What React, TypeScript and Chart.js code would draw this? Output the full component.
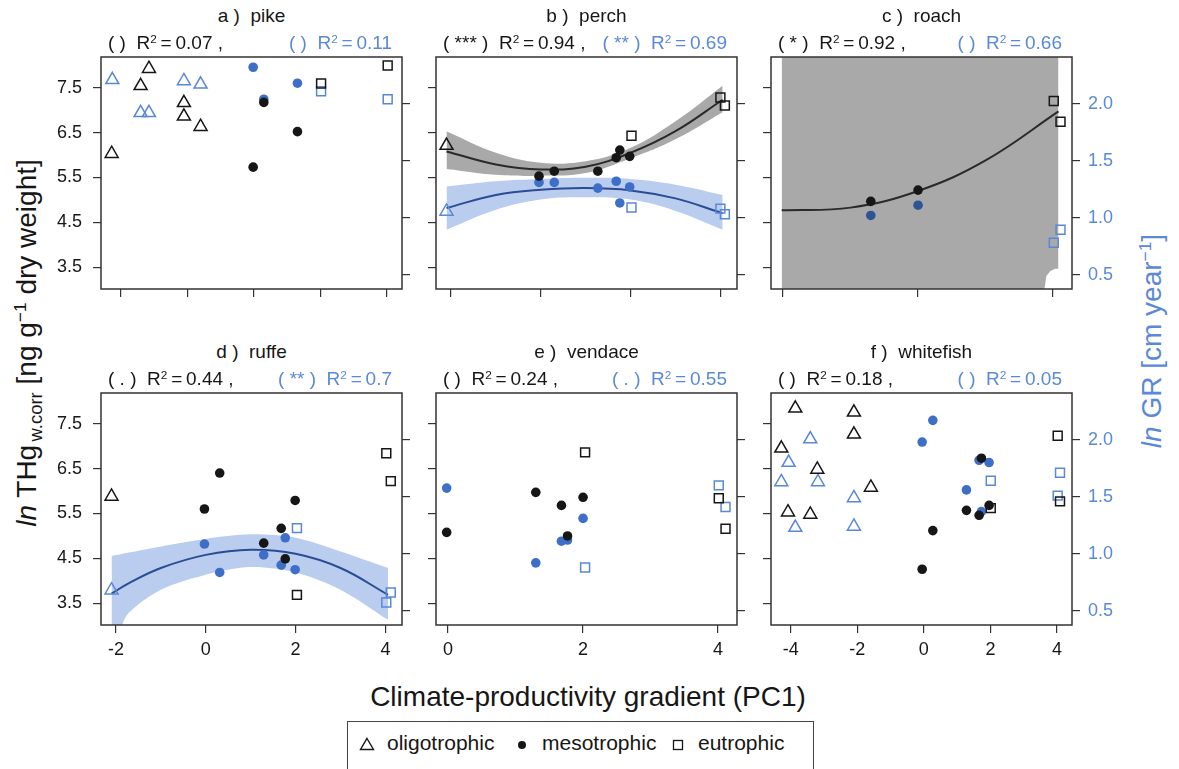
import React, { useEffect, useRef } from 'react';
import { Chart, registerables } from 'chart.js';

Chart.register(...registerables);

// ---------------- axes / ticks ----------------
const THG_TICKS = [3.5, 4.5, 5.5, 6.5, 7.5];
const GR_TICKS = [0.5, 1.0, 1.5, 2.0];
const THG_LIMITS = [3.02, 8.18];
const GR_LIMITS = [0.375, 2.41];
const X_TICKS_WIDE = [-4, -2, 0, 2, 4];
const X_TICKS_MID = [-2, 0, 2, 4];
const X_TICKS_NARROW = [0, 2, 4];
const X_LIMITS_WIDE = [-4.59, 4.45];
const X_LIMITS_MID = [-2.334, 4.37];
const X_LIMITS_NARROW = [-0.178, 4.28];

// ---------------- text ----------------
const PANEL_TITLES = ['a )  pike', 'b )  perch', 'c )  roach', 'd )  ruffe', 'e )  vendace', 'f )  whitefish'];
const THG_SIG = ['( )', '( *** )', '( * )', '( . )', '( )', '( )'];
const THG_R2 = ['0.07', '0.94', '0.92', '0.44', '0.24', '0.18'];
const GR_SIG = ['( )', '( ** )', '( )', '( ** )', '( . )', '( )'];
const GR_R2 = ['0.11', '0.69', '0.66', '0.7', '0.55', '0.05'];
const LEGEND_LABELS = ['oligotrophic', 'mesotrophic', 'eutrophic'];
const X_TITLE = 'Climate-productivity gradient (PC1)';

// ---------------- a) pike ----------------
const PIKE_OLIGO_X = [-4.27, -3.4, -3.15, -2.1, -2.1, -1.6];
const PIKE_THG_OLIGO = [6.03, 7.54, 7.92, 7.16, 6.86, 6.63];
const PIKE_GR_OLIGO_X = [-4.25, -3.4, -3.15, -2.1, -1.6];
const PIKE_GR_OLIGO = [2.21, 1.92, 1.92, 2.2, 2.17];
const PIKE_MESO_X = [-0.02, 0.3, 1.31];
const PIKE_THG_MESO = [5.73, 7.17, 6.52];
const PIKE_GR_MESO = [2.32, 2.04, 2.18];
const PIKE_EU_X = [2.02, 4.02];
const PIKE_THG_EU = [7.59, 7.99];
const PIKE_GR_EU = [2.11, 2.04];

// ---------------- b) perch ----------------
const PERCH_OLIGO_X = [-2.1];
const PERCH_THG_OLIGO = [6.21];
const PERCH_GR_OLIGO = [1.055];
const PERCH_MESO_X = [-0.04, 0.3, 1.27, 1.68, 1.76, 1.98];
const PERCH_THG_MESO = [5.53, 5.64, 5.64, 5.94, 6.11, 5.97];
const PERCH_GR_MESO = [1.31, 1.31, 1.26, 1.32, 1.13, 1.27];
const PERCH_EU_X = [2.02, 4.0, 4.1];
const PERCH_THG_EU = [6.43, 7.28, 7.1];
const PERCH_GR_EU = [1.09, 1.08, 1.03];
const PERCH_FIT_X = [-2.1, -1, 0, 1, 2, 3, 4.05];
const PERCH_THG_FIT = [6.08, 5.79, 5.68, 5.74, 6.05, 6.53, 7.23];
const PERCH_THG_UPPER = [6.53, 6.05, 5.83, 5.86, 6.16, 6.75, 7.54];
const PERCH_THG_LOWER = [5.69, 5.56, 5.54, 5.6, 5.93, 6.35, 6.95];
const PERCH_GR_FIT = [1.085, 1.2, 1.245, 1.26, 1.24, 1.17, 1.04];
const PERCH_GR_UPPER = [1.275, 1.32, 1.34, 1.35, 1.34, 1.29, 1.2];
const PERCH_GR_LOWER = [0.895, 1.07, 1.16, 1.18, 1.16, 1.06, 0.895];

// ---------------- c) roach ----------------
const ROACH_MESO_X = [1.3, 2.0];
const ROACH_THG_MESO = [4.97, 5.22];
const ROACH_GR_MESO = [1.02, 1.11];
const ROACH_EU_X = [4.01, 4.11];
const ROACH_THG_EU = [7.2, 6.74];
const ROACH_GR_EU = [0.78, 0.895];
const ROACH_FIT_X = [-0.02, 1, 2, 3, 4.08];
const ROACH_THG_FIT = [4.77, 4.83, 5.2, 5.88, 6.97];
const ROACH_BAND_X = [-0.02, 3.84, 3.86, 3.9, 3.96, 4.03, 4.08];
const ROACH_THG_UPPER = [20, 20, 20, 20, 20, 20, 20];
const ROACH_THG_LOWER = [-20, -20, 2.9, 3.31, 3.42, 3.47, 3.47];

// ---------------- d) ruffe ----------------
const RUFFE_OLIGO_X = [-2.1];
const RUFFE_THG_OLIGO = [5.88];
const RUFFE_GR_OLIGO = [0.68];
const RUFFE_MESO_X = [-0.03, 0.31, 1.29, 1.68, 1.77, 1.99];
const RUFFE_THG_MESO = [5.6, 6.4, 4.84, 5.17, 4.49, 5.79];
const RUFFE_GR_MESO = [1.085, 0.836, 0.99, 0.9, 1.14, 0.86];
const RUFFE_EU_X = [2.03, 4.02, 4.12];
const RUFFE_THG_EU = [3.69, 6.84, 6.22];
const RUFFE_GR_EU = [1.225, 0.573, 0.66];
const RUFFE_FIT_X = [-2.1, -1.72, -1, 0, 1, 2, 3, 4.06];
const RUFFE_GR_FIT = [0.65, 0.74, 0.875, 0.99, 1.035, 1.0, 0.875, 0.64];
const RUFFE_BAND_X = [-2.1, -1.9, -1.72, -1, 0, 1, 2, 3, 4.06];
const RUFFE_GR_UPPER = [0.98, 0.995, 1.01, 1.064, 1.13, 1.17, 1.14, 1.02, 0.875];
const RUFFE_GR_LOWER = [0.05, 0.33, 0.48, 0.685, 0.816, 0.883, 0.836, 0.685, 0.42];

// ---------------- e) vendace ----------------
const VENDACE_MESO_X = [-0.02, 1.3, 1.68, 1.77, 2.0];
const VENDACE_THG_MESO = [5.08, 5.97, 5.68, 5.0, 5.86];
const VENDACE_GR_MESO = [1.576, 0.92, 1.11, 1.12, 1.31];
const VENDACE_EU_X = [2.03, 4.01, 4.11];
const VENDACE_THG_EU = [6.86, 5.84, 5.16];
const VENDACE_GR_EU = [0.88, 1.6, 1.41];

// ---------------- f) whitefish ----------------
const WHITEFISH_OLIGO_X = [-4.28, -4.08, -3.86, -3.41, -3.2, -2.1, -2.1, -1.59];
const WHITEFISH_THG_OLIGO = [6.95, 5.53, 7.84, 5.48, 6.48, 7.75, 7.26, 6.08];
const WHITEFISH_GR_OLIGO_X = [-4.28, -4.06, -3.86, -3.41, -3.18, -2.1, -2.1];
const WHITEFISH_GR_OLIGO = [1.63, 1.8, 1.23, 2.006, 1.63, 1.49, 1.24];
const WHITEFISH_MESO_X = [-0.05, 0.27, 1.28, 1.66, 1.73, 1.96];
const WHITEFISH_THG_MESO = [4.26, 5.12, 5.57, 5.46, 6.73, 5.68];
const WHITEFISH_GR_MESO = [1.98, 2.17, 1.56, 1.82, 1.37, 1.8];
const WHITEFISH_EU_X = [2.01, 4.02, 4.09];
const WHITEFISH_THG_EU = [5.62, 7.23, 5.77];
const WHITEFISH_GR_EU = [1.64, 1.51, 1.71];

// ---------------- styles ----------------
const FONT = "'Liberation Sans', Arial, Helvetica, sans-serif";
const INK = '#161616';
const FRAME = '#333333';
const BLUE_FILL = '#3e6fc8';
const BLUE_DARK = '#2c5596';
const BLUE_OPEN = '#5888d6';
const BLUE_LINE = '#2a4c94';
const BLUE_BAND = '#bacdee';
const GRAY_BAND = '#a9a9a9';
const BLACK_LINE = '#2a2a2a';
const AXIS_BLUE = '#5a89d8';

const COL_LEFT = [101, 436, 771];
const ROW_TOP = [57, 393];
const PW = 301;
const PH = 232;
const PAD_L = 50;
const PAD_R = 55;
const PAD_T = 24;
const PAD_B = 45;
const CW = PAD_L + PW + PAD_R;
const CH = PAD_T + PH + PAD_B;

type Series = [string, string, number[], number[]];
type Fit = {
  axis: string; fitX: number[]; fit: number[]; bandX: number[]; upper: number[]; lower: number[];
  line: string; band: string; tension: number; bandTension: number;
};
type Panel = { row: number; col: number; xLim: number[]; xTicks: number[]; series: Series[]; fits: Fit[]; darkBlue?: boolean };

const PANELS: Panel[] = [
  {
    row: 0, col: 0, xLim: X_LIMITS_WIDE, xTicks: X_TICKS_WIDE,
    series: [
      ['oligo', 'y2', PIKE_GR_OLIGO_X, PIKE_GR_OLIGO], ['meso', 'y2', PIKE_MESO_X, PIKE_GR_MESO], ['eu', 'y2', PIKE_EU_X, PIKE_GR_EU],
      ['oligo', 'y', PIKE_OLIGO_X, PIKE_THG_OLIGO], ['meso', 'y', PIKE_MESO_X, PIKE_THG_MESO], ['eu', 'y', PIKE_EU_X, PIKE_THG_EU],
    ],
    fits: [],
  },
  {
    row: 0, col: 1, xLim: X_LIMITS_MID, xTicks: X_TICKS_MID,
    series: [
      ['oligo', 'y2', PERCH_OLIGO_X, PERCH_GR_OLIGO], ['meso', 'y2', PERCH_MESO_X, PERCH_GR_MESO], ['eu', 'y2', PERCH_EU_X, PERCH_GR_EU],
      ['oligo', 'y', PERCH_OLIGO_X, PERCH_THG_OLIGO], ['meso', 'y', PERCH_MESO_X, PERCH_THG_MESO], ['eu', 'y', PERCH_EU_X, PERCH_THG_EU],
    ],
    fits: [
      { axis: 'y', fitX: PERCH_FIT_X, fit: PERCH_THG_FIT, bandX: PERCH_FIT_X, upper: PERCH_THG_UPPER, lower: PERCH_THG_LOWER, line: BLACK_LINE, band: GRAY_BAND, tension: 0.4, bandTension: 0.4 },
      { axis: 'y2', fitX: PERCH_FIT_X, fit: PERCH_GR_FIT, bandX: PERCH_FIT_X, upper: PERCH_GR_UPPER, lower: PERCH_GR_LOWER, line: BLUE_LINE, band: BLUE_BAND, tension: 0.4, bandTension: 0.4 },
    ],
  },
  {
    row: 0, col: 2, xLim: X_LIMITS_NARROW, xTicks: X_TICKS_NARROW, darkBlue: true,
    series: [
      ['meso', 'y2', ROACH_MESO_X, ROACH_GR_MESO], ['eu', 'y2', ROACH_EU_X, ROACH_GR_EU],
      ['meso', 'y', ROACH_MESO_X, ROACH_THG_MESO], ['eu', 'y', ROACH_EU_X, ROACH_THG_EU],
    ],
    fits: [
      { axis: 'y', fitX: ROACH_FIT_X, fit: ROACH_THG_FIT, bandX: ROACH_BAND_X, upper: ROACH_THG_UPPER, lower: ROACH_THG_LOWER, line: BLACK_LINE, band: GRAY_BAND, tension: 0.4, bandTension: 0 },
    ],
  },
  {
    row: 1, col: 0, xLim: X_LIMITS_MID, xTicks: X_TICKS_MID,
    series: [
      ['oligo', 'y2', RUFFE_OLIGO_X, RUFFE_GR_OLIGO], ['meso', 'y2', RUFFE_MESO_X, RUFFE_GR_MESO], ['eu', 'y2', RUFFE_EU_X, RUFFE_GR_EU],
      ['oligo', 'y', RUFFE_OLIGO_X, RUFFE_THG_OLIGO], ['meso', 'y', RUFFE_MESO_X, RUFFE_THG_MESO], ['eu', 'y', RUFFE_EU_X, RUFFE_THG_EU],
    ],
    fits: [
      { axis: 'y2', fitX: RUFFE_FIT_X, fit: RUFFE_GR_FIT, bandX: RUFFE_BAND_X, upper: RUFFE_GR_UPPER, lower: RUFFE_GR_LOWER, line: BLUE_LINE, band: BLUE_BAND, tension: 0.4, bandTension: 0.3 },
    ],
  },
  {
    row: 1, col: 1, xLim: X_LIMITS_NARROW, xTicks: X_TICKS_NARROW,
    series: [
      ['meso', 'y2', VENDACE_MESO_X, VENDACE_GR_MESO], ['eu', 'y2', VENDACE_EU_X, VENDACE_GR_EU],
      ['meso', 'y', VENDACE_MESO_X, VENDACE_THG_MESO], ['eu', 'y', VENDACE_EU_X, VENDACE_THG_EU],
    ],
    fits: [],
  },
  {
    row: 1, col: 2, xLim: X_LIMITS_WIDE, xTicks: X_TICKS_WIDE,
    series: [
      ['oligo', 'y2', WHITEFISH_GR_OLIGO_X, WHITEFISH_GR_OLIGO], ['meso', 'y2', WHITEFISH_MESO_X, WHITEFISH_GR_MESO], ['eu', 'y2', WHITEFISH_EU_X, WHITEFISH_GR_EU],
      ['oligo', 'y', WHITEFISH_OLIGO_X, WHITEFISH_THG_OLIGO], ['meso', 'y', WHITEFISH_MESO_X, WHITEFISH_THG_MESO], ['eu', 'y', WHITEFISH_EU_X, WHITEFISH_THG_EU],
    ],
    fits: [],
  },
];

const pts = (xs: number[], ys: number[]) => xs.map((x, i) => ({ x, y: ys[i] }));
const STYLE: Record<string, string> = { oligo: 'triangle', meso: 'circle', eu: 'rect' };
const RADIUS: Record<string, number> = { oligo: 7.5, meso: 4.8, eu: 6.3 };

function pointDataset(s: Series, darkBlue: boolean) {
  const [kind, axis, xs, ys] = s;
  const blue = axis === 'y2';
  const open = kind !== 'meso';
  const col = blue ? (open ? BLUE_OPEN : darkBlue ? BLUE_DARK : BLUE_FILL) : INK;
  return {
    type: 'scatter',
    data: pts(xs, ys),
    yAxisID: axis,
    pointStyle: STYLE[kind],
    pointRadius: RADIUS[kind],
    borderColor: col,
    backgroundColor: open ? 'rgba(0,0,0,0)' : col,
    borderWidth: open ? 1.5 : 0,
    showLine: false,
    clip: false,
    order: blue ? 1 : 0,
  };
}

const framePlugin = {
  id: 'frame',
  afterDraw(chart: any) {
    const { ctx, chartArea: a } = chart;
    ctx.save();
    ctx.strokeStyle = FRAME;
    ctx.lineWidth = 1.5;
    ctx.strokeRect(a.left, a.top, a.right - a.left, a.bottom - a.top);
    ctx.restore();
  },
};

function buildConfig(p: Panel): any {
  const datasets: any[] = [];
  p.fits.forEach((f) => {
    datasets.push({
      type: 'line', data: pts(f.bandX, f.upper), yAxisID: f.axis, borderColor: 'rgba(0,0,0,0)', borderWidth: 0,
      pointRadius: 0, tension: f.bandTension, fill: '+1', backgroundColor: f.band, order: 3, clip: 0,
    });
    datasets.push({
      type: 'line', data: pts(f.bandX, f.lower), yAxisID: f.axis, borderColor: 'rgba(0,0,0,0)', borderWidth: 0,
      pointRadius: 0, tension: f.bandTension, fill: false, order: 3, clip: 0,
    });
  });
  p.fits.forEach((f) => {
    datasets.push({
      type: 'line', data: pts(f.fitX, f.fit), yAxisID: f.axis, borderColor: f.line, borderWidth: 2,
      pointRadius: 0, tension: f.tension, fill: false, order: 2, clip: 0,
    });
  });
  p.series.forEach((s) => datasets.push(pointDataset(s, !!p.darkBlue)));

  const showLeft = p.col === 0;
  const showRight = p.col === 2;
  const showBottom = p.row === 1;
  const tickFont = { family: FONT, size: 18 };
  const grid = { drawOnChartArea: false, drawTicks: true, tickLength: 8, color: FRAME, lineWidth: 1.2 };

  return {
    type: 'scatter',
    data: { datasets },
    options: {
      animation: false,
      responsive: false,
      maintainAspectRatio: false,
      events: [],
      layout: { padding: { top: PAD_T, left: 0, right: 0, bottom: 0 } },
      plugins: { legend: { display: false }, tooltip: { enabled: false }, title: { display: false } },
      scales: {
        x: {
          type: 'linear', position: 'bottom', min: p.xLim[0], max: p.xLim[1],
          afterBuildTicks: (s: any) => { s.ticks = p.xTicks.map((v) => ({ value: v })); },
          afterFit: (s: any) => { s.height = PAD_B; },
          ticks: { display: showBottom, autoSkip: false, maxRotation: 0, minRotation: 0, padding: 6, font: tickFont, color: INK, callback: (v: any) => String(v) },
          grid, border: { display: false },
        },
        y: {
          type: 'linear', position: 'left', min: THG_LIMITS[0], max: THG_LIMITS[1],
          afterBuildTicks: (s: any) => { s.ticks = THG_TICKS.map((v) => ({ value: v })); },
          afterFit: (s: any) => { s.width = PAD_L; },
          ticks: { display: showLeft, autoSkip: false, padding: 11, font: tickFont, color: INK, callback: (v: any) => Number(v).toFixed(1) },
          grid, border: { display: false },
        },
        y2: {
          type: 'linear', position: 'right', min: GR_LIMITS[0], max: GR_LIMITS[1],
          afterBuildTicks: (s: any) => { s.ticks = GR_TICKS.map((v) => ({ value: v })); },
          afterFit: (s: any) => { s.width = PAD_R; },
          ticks: { display: showRight, autoSkip: false, padding: 8, font: tickFont, color: AXIS_BLUE, callback: (v: any) => Number(v).toFixed(1) },
          grid, border: { display: false },
        },
      },
    },
    plugins: [framePlugin],
  };
}

function PanelChart({ p }: { p: Panel }) {
  const ref = useRef<HTMLCanvasElement>(null);
  useEffect(() => {
    const chart = new Chart(ref.current as HTMLCanvasElement, buildConfig(p));
    return () => chart.destroy();
  }, [p]);
  const L = COL_LEFT[p.col];
  const T = ROW_TOP[p.row];
  return (
    <canvas
      ref={ref}
      width={CW}
      height={CH}
      style={{ position: 'absolute', left: L - PAD_L, top: T - PAD_T, width: CW, height: CH }}
    />
  );
}

const Sup = ({ children }: { children: any }) => (
  <span style={{ fontSize: '0.62em', position: 'relative', top: '-0.55em' }}>{children}</span>
);
const Sub = ({ children }: { children: any }) => (
  <span style={{ fontSize: '0.66em', position: 'relative', top: '0.32em', marginLeft: '0.18em' }}>{children}</span>
);

function PanelText({ p, i }: { p: Panel; i: number }) {
  const L = COL_LEFT[p.col];
  const T = ROW_TOP[p.row];
  const base: any = { position: 'absolute', fontSize: 19, lineHeight: '22px', whiteSpace: 'pre' };
  return (
    <>
      <div style={{ ...base, left: L, top: T - 52, width: PW, textAlign: 'center', color: INK }}>{PANEL_TITLES[i]}</div>
      <div style={{ ...base, left: L + 7, top: T - 25, color: INK }}>
        {THG_SIG[i]}{'  '}R<Sup>2</Sup>{'\u2009=\u2009'}{THG_R2[i]}{' ,'}
      </div>
      <div style={{ ...base, right: 1179 - (L + PW - 10), top: T - 25, color: AXIS_BLUE }}>
        {GR_SIG[i]}{'  '}R<Sup>2</Sup>{'\u2009=\u2009'}{GR_R2[i]}
      </div>
    </>
  );
}

export default function App() {
  const axisTitle: any = { position: 'absolute', whiteSpace: 'nowrap', fontSize: 28, lineHeight: '30px' };
  const legendText: any = { position: 'absolute', top: 731, fontSize: 21, lineHeight: '24px', whiteSpace: 'nowrap', color: INK };
  return (
    <div style={{ position: 'fixed', left: 0, top: 0, width: 1179, height: 769, background: '#ffffff', overflow: 'hidden', fontFamily: FONT, color: INK }}>
      {PANELS.map((p, i) => <PanelChart key={'c' + i} p={p} />)}
      {PANELS.map((p, i) => <PanelText key={'t' + i} p={p} i={i} />)}

      <div style={{ ...axisTitle, left: 28, top: 343, transform: 'translate(-50%, -50%) rotate(-90deg)', color: INK }}>
        <i>ln</i> THg<Sub>w.corr</Sub> [ng g<Sup>−1</Sup> dry weight]
      </div>
      <div style={{ ...axisTitle, left: 1153, top: 341, transform: 'translate(-50%, -50%) rotate(-90deg)', color: AXIS_BLUE }}>
        <i>ln</i> GR [cm year<Sup>−1</Sup>]
      </div>
      <div style={{ ...axisTitle, left: 588, top: 682, transform: 'translateX(-50%)', color: INK }}>{X_TITLE}</div>

      <div style={{ position: 'absolute', left: 347, top: 721, width: 467, height: 70, border: '1.5px solid #444', boxSizing: 'border-box' }} />
      <svg style={{ position: 'absolute', left: 359, top: 737 }} width={16} height={14}>
        <polygon points="8,1.5 14.5,12.5 1.5,12.5" fill="none" stroke={INK} strokeWidth={1.4} />
      </svg>
      <div style={{ ...legendText, left: 387 }}>{LEGEND_LABELS[0]}</div>
      <svg style={{ position: 'absolute', left: 517, top: 740 }} width={10} height={10}>
        <circle cx={5} cy={5} r={4} fill={INK} />
      </svg>
      <div style={{ ...legendText, left: 542 }}>{LEGEND_LABELS[1]}</div>
      <svg style={{ position: 'absolute', left: 672, top: 739 }} width={12} height={12}>
        <rect x={1.5} y={1.5} width={9} height={9} fill="none" stroke={INK} strokeWidth={1.3} />
      </svg>
      <div style={{ ...legendText, left: 698 }}>{LEGEND_LABELS[2]}</div>
    </div>
  );
}
